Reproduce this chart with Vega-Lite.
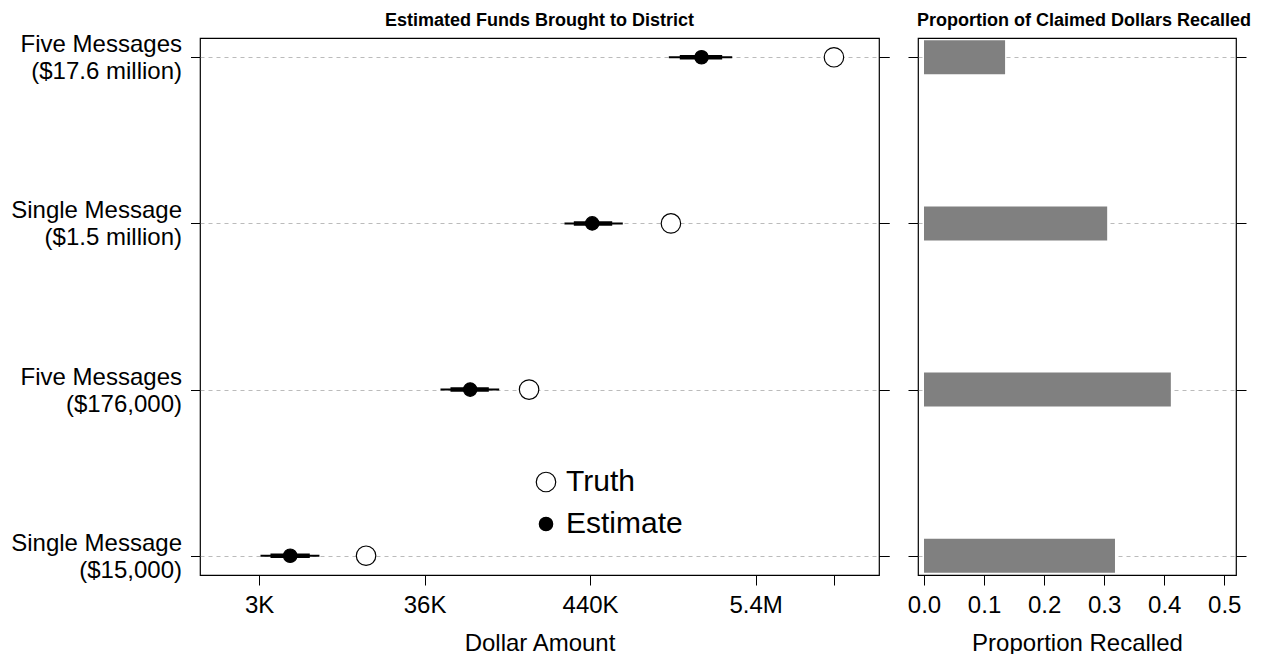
{
  "$schema": "https://vega.github.io/schema/vega-lite/v6.json",
  "background": "white",
  "padding": {"left": 10, "top": 11, "right": 5, "bottom": 5},
  "config": {
    "font": "Liberation Sans",
    "view": {"stroke": "black", "strokeWidth": 1.2},
    "axis": {"domain": false, "tickColor": "black", "tickSize": 10, "tickWidth": 1, "labelColor": "black", "labelFont": "Liberation Sans", "labelFontSize": 24, "titleFont": "Liberation Sans", "titleFontSize": 24, "titleFontWeight": "normal", "titleColor": "black", "grid": false},
    "title": {"font": "Liberation Sans", "fontSize": 18, "fontWeight": "bold", "color": "black"},
    "legend": {"labelFont": "Liberation Sans", "labelFontSize": 30, "labelColor": "black"}
  },
  "datasets": {
    "est": [
      {"condition": "Five Messages ($17.6 million)", "Truth": 17600000, "Estimate": 2381000, "lo90": 1453000, "hi90": 3786000, "lo50": 1715000, "hi50": 3253000, "prop": 0.135},
      {"condition": "Single Message ($1.5 million)", "Truth": 1500000, "Estimate": 456800, "lo90": 300400, "hi90": 725000, "lo50": 345900, "hi50": 617800, "prop": 0.305},
      {"condition": "Five Messages ($176,000)", "Truth": 176000, "Estimate": 72300, "lo90": 46170, "hi90": 112100, "lo50": 53700, "hi50": 95800, "prop": 0.411},
      {"condition": "Single Message ($15,000)", "Truth": 15000, "Estimate": 4769, "lo90": 3045, "hi90": 7416, "lo50": 3541, "hi50": 6412, "prop": 0.318}
    ]
  },
  "spacing": 15,
  "hconcat": [
    {
      "width": 679,
      "height": 537,
      "title": {"text": "Estimated Funds Brought to District", "baseline": "alphabetic", "frame": "group", "offset": -11},
      "data": {"name": "est"},
      "resolve": {"axis": {"y": "independent"}},
      "layer": [
        {
          "mark": {"type": "rule", "strokeWidth": 2, "color": "black"},
          "encoding": {
            "y": {"field": "condition", "type": "nominal",
              "scale": {"type": "point", "domain": ["Five Messages ($17.6 million)", "Single Message ($1.5 million)", "Five Messages ($176,000)", "Single Message ($15,000)"], "padding": 0.116},
              "axis": {"title": null, "labelExpr": "[split(datum.value, ' (')[0], '(' + split(datum.value, ' (')[1]]", "labelLineHeight": 27, "labelOffset": -12.5, "labelPadding": 9, "tickSize": 9.5, "grid": true, "gridDash": [4, 4], "gridColor": "#bbbbbb", "gridWidth": 1}},
            "x": {"field": "lo90", "type": "quantitative",
              "scale": {"type": "log", "domain": [1221, 34760000], "nice": false},
              "axis": {"title": "Dollar Amount", "values": [2981, 36316, 442413, 5389698, 17600000], "labelExpr": "datum.value < 10000 ? '3K' : datum.value < 100000 ? '36K' : datum.value < 1000000 ? '440K' : datum.value < 10000000 ? '5.4M' : ''", "labelPadding": 8, "titlePadding": 14}},
            "x2": {"field": "hi90"}
          }
        },
        {
          "mark": {"type": "rule", "strokeWidth": 4.5, "color": "black"},
          "encoding": {
            "y": {"field": "condition", "type": "nominal", "axis": {"orient": "right", "labels": false, "title": null, "grid": false, "tickSize": 10}},
            "x": {"field": "lo50", "type": "quantitative", "axis": {"title": "Dollar Amount"}},
            "x2": {"field": "hi50"}
          }
        },
        {
          "transform": [{"fold": ["Truth", "Estimate"], "as": ["type", "value"]}],
          "mark": {"type": "point", "filled": true, "stroke": "black", "strokeWidth": 1.2, "opacity": 1, "shape": "circle"},
          "encoding": {
            "y": {"field": "condition", "type": "nominal", "axis": {"orient": "right", "labels": false, "title": null, "grid": false, "tickSize": 10}},
            "x": {"field": "value", "type": "quantitative", "axis": {"title": "Dollar Amount"}},
            "fill": {"field": "type", "type": "nominal", "scale": {"domain": ["Truth", "Estimate"], "range": ["white", "black"]},
              "legend": {"title": null, "orient": "none", "legendX": 331, "legendY": 429, "symbolType": "circle", "symbolStrokeColor": "black", "symbolStrokeWidth": 1.2, "symbolOpacity": 1, "labelOffset": 5, "rowPadding": 12, "padding": 0,
                "encode": {"symbols": {"update": {"stroke": {"value": "black"}, "strokeWidth": {"value": 1.2}, "opacity": {"value": 1}}}}}},
            "size": {"field": "type", "type": "nominal", "scale": {"domain": ["Truth", "Estimate"], "range": [380, 180]},
              "legend": {"title": null, "orient": "none", "legendX": 331, "legendY": 429, "symbolType": "circle", "symbolStrokeColor": "black", "symbolStrokeWidth": 1.2, "symbolOpacity": 1, "labelOffset": 5, "rowPadding": 12, "padding": 0,
                "encode": {"symbols": {"update": {"stroke": {"value": "black"}, "strokeWidth": {"value": 1.2}, "opacity": {"value": 1}}}}}}
          }
        }
      ]
    },
    {
      "width": 318,
      "height": 537,
      "title": {"text": "Proportion of Claimed Dollars Recalled", "baseline": "alphabetic", "frame": "group", "offset": -6, "dx": 7},
      "data": {"name": "est"},
      "resolve": {"axis": {"y": "independent"}},
      "layer": [
        {
          "mark": {"type": "bar", "color": "#808080", "size": 34},
          "encoding": {
            "y": {"field": "condition", "type": "nominal",
              "scale": {"type": "point", "domain": ["Five Messages ($17.6 million)", "Single Message ($1.5 million)", "Five Messages ($176,000)", "Single Message ($15,000)"], "padding": 0.116},
              "axis": {"title": null, "labels": false, "tickSize": 10, "grid": true, "gridDash": [4, 4], "gridColor": "#bbbbbb", "gridWidth": 1}},
            "x": {"field": "prop", "type": "quantitative",
              "scale": {"domain": [-0.01, 0.5195], "nice": false, "zero": false},
              "axis": {"title": "Proportion Recalled", "values": [0, 0.1, 0.2, 0.3, 0.4, 0.5], "format": ".1f", "labelPadding": 8, "titlePadding": 14}},
            "x2": {"datum": 0}
          }
        },
        {
          "mark": {"type": "bar", "color": "#808080", "size": 34, "opacity": 0},
          "encoding": {
            "y": {"field": "condition", "type": "nominal", "axis": {"orient": "right", "labels": false, "title": null, "grid": false, "tickSize": 10}},
            "x": {"field": "prop", "type": "quantitative", "axis": {"title": "Proportion Recalled"}},
            "x2": {"datum": 0}
          }
        }
      ]
    }
  ]
}
